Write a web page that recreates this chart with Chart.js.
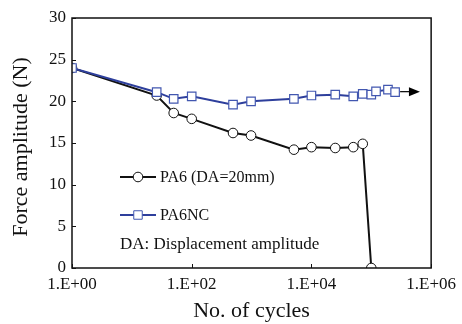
<!DOCTYPE html>
<html>
<head>
<meta charset="utf-8">
<script src="https://cdn.jsdelivr.net/npm/chart.js@4"></script>
<style>
  html, body { margin: 0; padding: 0; background: #ffffff; }
  #wrap { width: 462px; height: 324px; }
</style>
</head>
<body>
<div id="wrap"><canvas id="c" width="462" height="324"></canvas></div>
<script>
// ---- data ----
const pa6Cycles  = [1, 26, 50, 100, 490, 980, 5100, 10000, 25000, 50000, 72000, 100000];
const pa6Force   = [24.0, 20.7, 18.6, 17.9, 16.2, 15.9, 14.2, 14.5, 14.4, 14.5, 14.9, 0];
const pa6ncCycles = [1, 26, 50, 100, 490, 980, 5100, 10000, 25000, 50000, 72000, 100000, 120000, 190000, 250000];
const pa6ncForce  = [24.0, 21.1, 20.3, 20.6, 19.6, 20.0, 20.3, 20.7, 20.8, 20.6, 20.9, 20.8, 21.2, 21.4, 21.1];
const arrowEndCycles = 650000;
const xTickValues = [1, 100, 10000, 1000000];
const xTickLabels = ['1.E+00', '1.E+02', '1.E+04', '1.E+06'];
const yTickValues = [0, 5, 10, 15, 20, 25, 30];
const seriesNames = ['PA6 (DA=20mm)', 'PA6NC'];
const noteText = 'DA: Displacement amplitude';
const xTitle = 'No. of cycles';
const yTitle = 'Force amplitude (N)';

const SERIF = '"Liberation Serif", "Times New Roman", serif';
const BLUE = '#2e3f9c';
const BLUE_EDGE = '#4257b0';

const toPts = (xs, ys) => xs.map((x, i) => ({ x: x, y: ys[i] }));

const decorPlugin = {
  id: 'decor',
  afterDatasetsDraw(chart) {
    const { ctx, chartArea: a, scales } = chart;
    const xs = scales.x, ys = scales.y;
    ctx.save();
    // frame
    ctx.strokeStyle = '#111';
    ctx.lineWidth = 1.5;
    ctx.strokeRect(a.left, a.top, a.right - a.left, a.bottom - a.top);
    // inner tick marks
    ctx.lineWidth = 1;
    ctx.beginPath();
    yTickValues.forEach(v => {
      const py = Math.round(ys.getPixelForValue(v)) + 0.5;
      ctx.moveTo(a.left, py); ctx.lineTo(a.left + 4, py);
    });
    xTickValues.forEach(v => {
      const px = Math.round(xs.getPixelForValue(v)) + 0.5;
      ctx.moveTo(px, a.bottom); ctx.lineTo(px, a.bottom - 4);
    });
    ctx.stroke();

    // arrow after last PA6NC point
    const lastI = pa6ncCycles.length - 1;
    const sx = xs.getPixelForValue(pa6ncCycles[lastI]) + 5;
    const ex = xs.getPixelForValue(arrowEndCycles);
    const ay = ys.getPixelForValue(pa6ncForce[lastI]) - 0.5;
    ctx.strokeStyle = '#000';
    ctx.lineWidth = 1.2;
    ctx.beginPath(); ctx.moveTo(sx, ay); ctx.lineTo(ex - 8, ay); ctx.stroke();
    ctx.fillStyle = '#000';
    ctx.beginPath();
    ctx.moveTo(ex, ay); ctx.lineTo(ex - 11, ay - 4.5); ctx.lineTo(ex - 11, ay + 4.5); ctx.closePath();
    ctx.fill();

    // legend (inside plot)
    const ds = chart.data.datasets;
    const rows = [{ y: 177, d: ds[0] }, { y: 215, d: ds[1] }];
    rows.forEach(r => {
      ctx.strokeStyle = r.d.borderColor;
      ctx.lineWidth = 2;
      ctx.beginPath(); ctx.moveTo(120, r.y); ctx.lineTo(156, r.y); ctx.stroke();
      ctx.fillStyle = r.d.pointBackgroundColor;
      ctx.strokeStyle = r.d.pointBorderColor;
      ctx.lineWidth = 1;
      const s = Math.SQRT1_2 * r.d.pointRadius;
      ctx.beginPath();
      if (r.d.pointStyle === 'circle') ctx.arc(138, r.y, r.d.pointRadius, 0, Math.PI * 2);
      else ctx.rect(138 - s, r.y - s, 2 * s, 2 * s);
      ctx.fill(); ctx.stroke();
      ctx.fillStyle = '#111';
      ctx.font = '16px ' + SERIF;
      ctx.textAlign = 'left'; ctx.textBaseline = 'middle';
      ctx.fillText(r.d.label, 160, r.y + 1);
    });
    ctx.font = '17px ' + SERIF;
    ctx.fillStyle = '#111';
    ctx.textAlign = 'left'; ctx.textBaseline = 'middle';
    ctx.fillText(noteText, 120, 245);

    // axis titles
    ctx.font = '22px ' + SERIF;
    ctx.textAlign = 'center'; ctx.textBaseline = 'middle';
    ctx.fillText(xTitle, (a.left + a.right) / 2, 311);
    ctx.save();
    ctx.translate(21, 147);
    ctx.rotate(-Math.PI / 2);
    ctx.fillText(yTitle, 0, 0);
    ctx.restore();
    ctx.restore();
  }
};

new Chart(document.getElementById('c'), {
  type: 'line',
  data: {
    datasets: [
      {
        label: seriesNames[0],
        data: toPts(pa6Cycles, pa6Force),
        borderColor: '#111',
        borderWidth: 2,
        pointStyle: 'circle',
        pointRadius: 4.8,
        pointBackgroundColor: '#fff',
        pointBorderColor: '#111',
        pointBorderWidth: 1,
        tension: 0,
        order: 2
      },
      {
        label: seriesNames[1],
        data: toPts(pa6ncCycles, pa6ncForce),
        borderColor: BLUE,
        borderWidth: 2,
        pointStyle: 'rect',
        pointRadius: 6,
        pointBackgroundColor: '#fff',
        pointBorderColor: BLUE_EDGE,
        pointBorderWidth: 1.2,
        tension: 0,
        order: 1
      }
    ]
  },
  options: {
    responsive: false,
    animation: false,
    devicePixelRatio: 1,
    layout: { padding: { left: 0, right: 30, top: 18, bottom: 0 } },
    plugins: { legend: { display: false }, tooltip: { enabled: false } },
    scales: {
      x: {
        type: 'logarithmic',
        min: 1, max: 1000000,
        afterBuildTicks: s => { s.ticks = xTickValues.map(v => ({ value: v })); },
        afterFit: s => { s.height = 56; },
        grid: { display: false, drawTicks: false },
        border: { display: false },
        ticks: {
          autoSkip: false, maxRotation: 0, padding: 6,
          color: '#111', font: { family: SERIF, size: 17 },
          callback: (v) => { const i = xTickValues.indexOf(v); return i >= 0 ? xTickLabels[i] : ''; }
        }
      },
      y: {
        min: 0, max: 30,
        afterBuildTicks: s => { s.ticks = yTickValues.map(v => ({ value: v })); },
        afterFit: s => { s.width = 72; },
        grid: { display: false, drawTicks: false },
        border: { display: false },
        ticks: {
          padding: 6, color: '#111', font: { family: SERIF, size: 17 }
        }
      }
    }
  },
  plugins: [decorPlugin]
});
</script>
</body>
</html>
